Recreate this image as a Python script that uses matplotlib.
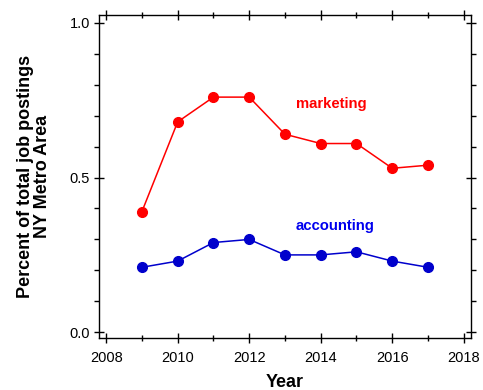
import matplotlib.pyplot as plt
from matplotlib.ticker import MultipleLocator

plt.rcParams['font.family'] = ['Liberation Sans', 'DejaVu Sans']

years = [2009, 2010, 2011, 2012, 2013, 2014, 2015, 2016, 2017]
marketing = [0.39, 0.68, 0.76, 0.76, 0.64, 0.61, 0.61, 0.53, 0.54]
accounting = [0.21, 0.23, 0.29, 0.30, 0.25, 0.25, 0.26, 0.23, 0.21]

fig = plt.figure(figsize=(4.83, 3.9), dpi=100)
ax = fig.add_axes([0.205, 0.133, 0.77, 0.829])

ax.plot(years, marketing, color='#ff0000', lw=1.1, marker='o', ms=7)
ax.plot(years, accounting, color='#0000cc', lw=1.1, marker='o', ms=7)

ax.text(2014.3, 0.738, 'marketing', color='#ff0000', fontsize=10.7,
        fontweight='bold', ha='center', va='center')
ax.text(2014.4, 0.343, 'accounting', color='#0000ee', fontsize=10.7,
        fontweight='bold', ha='center', va='center')

ax.set_xlim(2007.8, 2018.2)
ax.set_ylim(-0.019, 1.026)
ax.xaxis.set_major_locator(MultipleLocator(2))
ax.xaxis.set_minor_locator(MultipleLocator(1))
ax.yaxis.set_major_locator(MultipleLocator(0.5))
ax.yaxis.set_minor_locator(MultipleLocator(0.1))
ax.tick_params(which='major', direction='inout', length=7, width=1,
               top=True, right=True, labelsize=10.5, pad=3)
ax.tick_params(axis='x', which='major', pad=6)
ax.tick_params(which='minor', direction='inout', length=4, width=1,
               top=True, right=True)
ax.tick_params(axis='y', which='minor', direction='out', length=3.5)
for s in ax.spines.values():
    s.set_linewidth(1)

ax.set_xlabel('Year', fontsize=13, fontweight='bold', labelpad=6)
ax.set_ylabel('Percent of total job postings\nNY Metro Area', fontsize=13,
              fontweight='bold', labelpad=13, linespacing=1.0)

fig.savefig('out.png', dpi=100)
